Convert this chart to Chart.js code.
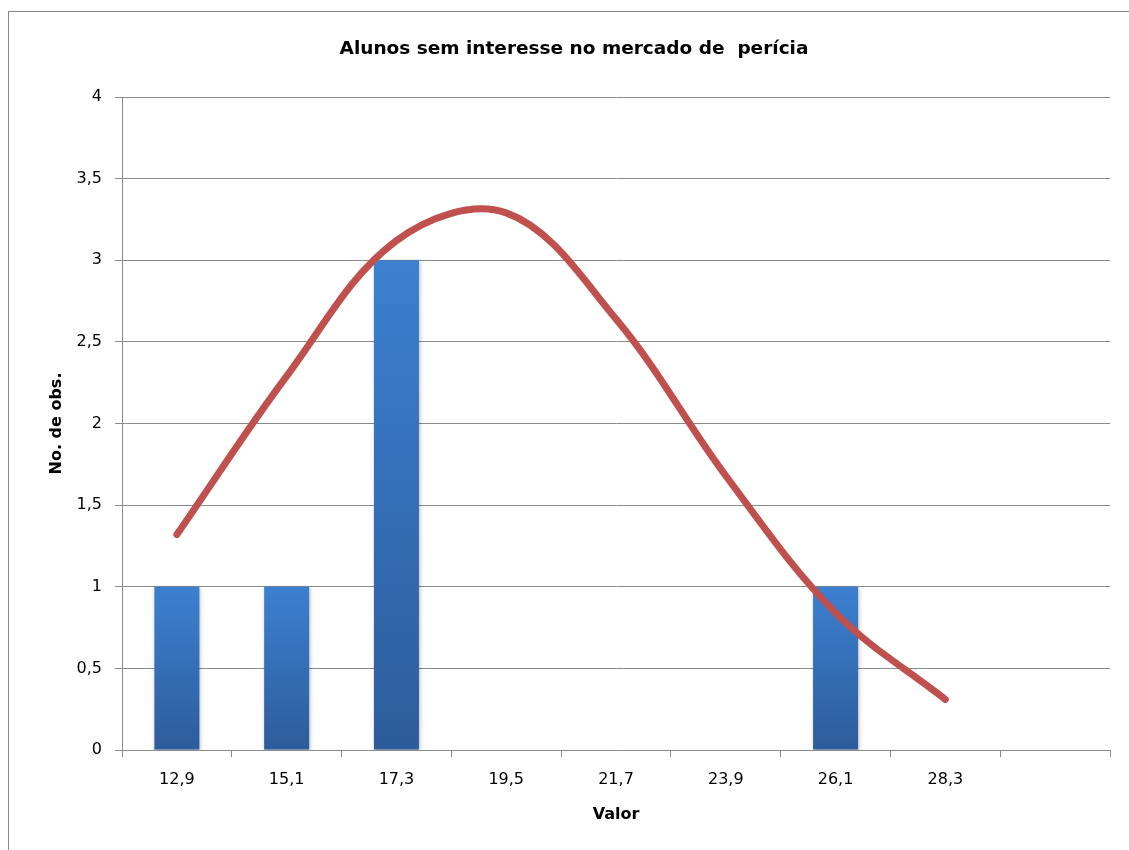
<!DOCTYPE html>
<html lang="pt">
<head>
<meta charset="utf-8">
<title>Alunos sem interesse no mercado de perícia</title>
<script src="https://cdn.jsdelivr.net/npm/chart.js@4/dist/chart.umd.min.js"></script>
<style>
  html, body { margin: 0; padding: 0; background: #ffffff; }
  #wrap { position: relative; width: 1129px; height: 850px; }
</style>
</head>
<body>
<div id="wrap"><canvas id="chart" width="1129" height="850"></canvas></div>
<script>
// Class midpoints (the last slot is an empty class)
const categories = ['12,9', '15,1', '17,3', '19,5', '21,7', '23,9', '26,1', '28,3', ''];
// Observed counts per class
const observed = [1, 1, 3, null, null, null, 1, null, null];
// Fitted normal curve evaluated at each midpoint
const normalCurve = [1.32, 2.29, 3.12, 3.29, 2.64, 1.68, 0.84, 0.31, null];
// Y axis tick labels (Portuguese decimal comma)
const yTickLabels = ['0', '0,5', '1', '1,5', '2', '2,5', '3', '3,5', '4'];

const GRID = '#8a8a8a';
const FONT = 'DejaVu Sans';

// Each bar gets its own vertical gradient from light top to dark base
function barGradient(ctx) {
  const chart = ctx.chart;
  const y = chart.scales.y;
  if (!chart.chartArea || !y || ctx.raw == null) return '#3a78c6';
  const top = y.getPixelForValue(ctx.raw);
  const base = y.getPixelForValue(0);
  const g = chart.ctx.createLinearGradient(0, top, 0, base);
  g.addColorStop(0, '#3c80d0');
  g.addColorStop(1, '#2d5c9b');
  return g;
}

// Outer frame of the chart block plus soft shadow under the bars
const decor = {
  id: 'decor',
  beforeDraw(chart) {
    const c = chart.ctx;
    c.save();
    c.fillStyle = '#ffffff';
    c.fillRect(0, 0, chart.width, chart.height);
    c.strokeStyle = '#8a8a8a';
    c.lineWidth = 1;
    c.strokeRect(8.5, 11.5, 1200, 900);
    c.restore();
  },
  beforeDatasetDraw(chart, args) {
    if (args.meta.type === 'bar') {
      const c = chart.ctx;
      c.save();
      c.shadowColor = 'rgba(0,0,0,0.28)';
      c.shadowBlur = 4;
      c.shadowOffsetX = 1;
      c.shadowOffsetY = 1;
    }
  },
  afterDatasetDraw(chart, args) {
    if (args.meta.type === 'bar') chart.ctx.restore();
  }
};

new Chart(document.getElementById('chart'), {
  type: 'bar',
  data: {
    labels: categories,
    datasets: [
      {
        type: 'line',
        label: 'Normal',
        data: normalCurve,
        borderColor: '#c0504d',
        borderWidth: 7,
        borderCapStyle: 'round',
        borderJoinStyle: 'round',
        tension: 0.36,
        pointRadius: 0,
        fill: false,
        order: 0
      },
      {
        type: 'bar',
        label: 'No. de obs.',
        data: observed,
        backgroundColor: barGradient,
        borderWidth: 0,
        categoryPercentage: 1,
        barPercentage: 0.41,
        order: 1
      }
    ]
  },
  options: {
    responsive: false,
    animation: false,
    layout: { padding: { left: 38, right: 19, top: 0, bottom: 0 } },
    plugins: {
      legend: { display: false },
      tooltip: { enabled: false },
      title: {
        display: true,
        text: 'Alunos sem interesse no mercado de  perícia',
        color: '#000000',
        font: { family: FONT, size: 18.5, weight: 'bold' },
        padding: { top: 38.5, bottom: 36.3 }
      }
    },
    scales: {
      x: {
        offset: true,
        afterFit(scale) { scale.height = 100; },
        grid: {
          offset: true,
          drawOnChartArea: false,
          drawTicks: true,
          tickLength: 7,
          color: GRID,
          lineWidth: 1
        },
        border: { display: true, color: GRID, width: 1 },
        ticks: {
          color: '#000000',
          font: { family: FONT, size: 16 },
          padding: 13,
          maxRotation: 0,
          autoSkip: false
        },
        title: {
          display: true,
          text: 'Valor',
          color: '#000000',
          font: { family: FONT, size: 16, weight: 'bold' },
          padding: { top: 0, bottom: 26 }
        }
      },
      y: {
        min: 0,
        max: 4,
        afterFit(scale) { scale.width = 84; },
        afterBuildTicks(scale) {
          scale.ticks = yTickLabels.map((_, i) => ({ value: i * 0.5 }));
        },
        grid: {
          drawTicks: true,
          tickLength: 7,
          color: GRID,
          lineWidth: 1
        },
        border: { display: true, color: GRID, width: 1 },
        ticks: {
          color: '#000000',
          font: { family: FONT, size: 16 },
          padding: 13,
          callback: (v, i) => yTickLabels[i]
        },
        title: {
          display: true,
          text: 'No. de obs.',
          color: '#000000',
          font: { family: FONT, size: 16, weight: 'bold' },
          padding: { top: 9, bottom: 0 }
        }
      }
    }
  },
  plugins: [decor]
});
</script>
</body>
</html>
